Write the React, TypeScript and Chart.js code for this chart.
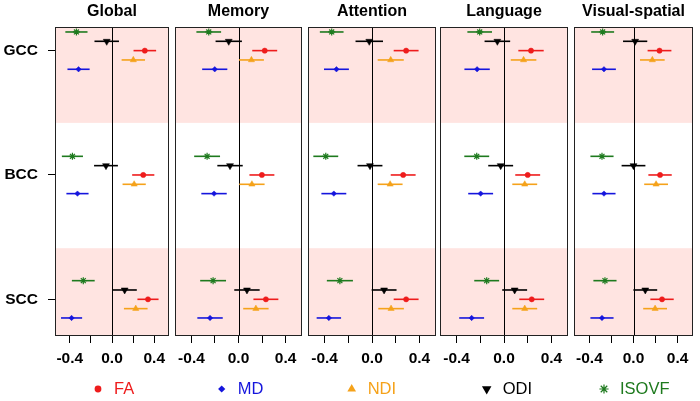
import React, { useEffect, useRef } from 'react';
import { Chart, registerables } from 'chart.js';

Chart.register(...registerables);

// ---------- data ----------
const PANELS = ['Global', 'Memory', 'Attention', 'Language', 'Visual-spatial'];
const ROWS = ['GCC', 'BCC', 'SCC'];
const METRICS = ['FA', 'MD', 'NDI', 'ODI', 'ISOVF'];
const X_TICKS = [-0.4, -0.2, 0, 0.2, 0.4];
const X_TICK_LABELS = ['-0.4', '', '0.0', '', '0.4'];

// estimates [panel][row GCC, BCC, SCC]
const FA_EST = [[0.311, 0.296, 0.341], [0.223, 0.199, 0.233], [0.288, 0.263, 0.288], [0.228, 0.2, 0.234], [0.236, 0.241, 0.259]];
const MD_EST = [[-0.317, -0.327, -0.383], [-0.202, -0.208, -0.242], [-0.3, -0.322, -0.364], [-0.227, -0.197, -0.273], [-0.268, -0.268, -0.286]];
const NDI_EST = [[0.202, 0.21, 0.225], [0.11, 0.114, 0.148], [0.158, 0.153, 0.161], [0.165, 0.175, 0.175], [0.171, 0.205, 0.196]];
const ODI_EST = [[-0.05, -0.057, 0.12], [-0.083, -0.072, 0.072], [-0.023, -0.017, 0.102], [-0.056, -0.028, 0.09], [0.015, 0.0, 0.107]];
const ISOVF_EST = [[-0.337, -0.375, -0.272], [-0.253, -0.267, -0.216], [-0.34, -0.39, -0.271], [-0.205, -0.23, -0.146], [-0.28, -0.286, -0.259]];

// confidence-interval half widths [panel][row]
const FA_HW = [[0.107, 0.105, 0.1], [0.106, 0.106, 0.106], [0.105, 0.105, 0.105], [0.107, 0.105, 0.105], [0.108, 0.106, 0.106]];
const MD_HW = [[0.105, 0.105, 0.1], [0.107, 0.108, 0.108], [0.105, 0.105, 0.103], [0.107, 0.105, 0.105], [0.108, 0.105, 0.105]];
const NDI_HW = [[0.111, 0.11, 0.112], [0.106, 0.108, 0.108], [0.11, 0.105, 0.108], [0.108, 0.105, 0.105], [0.112, 0.108, 0.108]];
const ODI_HW = [[0.116, 0.113, 0.115], [0.112, 0.108, 0.108], [0.116, 0.105, 0.105], [0.108, 0.105, 0.105], [0.11, 0.108, 0.108]];
const ISOVF_HW = [[0.105, 0.1, 0.108], [0.105, 0.11, 0.11], [0.1, 0.105, 0.11], [0.104, 0.105, 0.105], [0.104, 0.105, 0.105]];

const EST = [FA_EST, MD_EST, NDI_EST, ODI_EST, ISOVF_EST];
const HW = [FA_HW, MD_HW, NDI_HW, ODI_HW, ISOVF_HW];

// ---------- styles / layout ----------
const COLORS = ['#ee1c1c', '#1515dd', '#f5a21a', '#000000', '#1e7a1e'];
const POINT_STYLES = ['circle', 'rectRot', 'triangle', 'triangle', 'star'];
const POINT_RADII = [2.6, 2.7, 3.6, 4.0, 3.5];
const POINT_ROT = [0, 0, 0, 180, 0];
const ROW_OFFSETS = [0, 0.15, 0.075, -0.075, -0.15];
const LEGEND_KIND = ['circle', 'diamond', 'up', 'down', 'star'];
const LEGEND_R = [3.4, 3.6, 5.0, 5.5, 4.6];
const LEGEND_X = [98, 221.7, 351.7, 486.7, 604];
const LEGEND_TEXT_DX = 16;
const LEGEND_Y = 389;

const PANEL_LEFT = [55, 175, 308, 440, 574];
const PANEL_RIGHT = [169, 302, 436, 568, 693];
const PLOT_TOP = 27;
const PLOT_BOTTOM = 335;
const X_AXIS_H = 50;
const X_MIN = -0.54;
const X_MAX = 0.54;
const Y_MIN = 0.81;
const Y_MAX = 3.287;
const BAND_EDGES = [1.581, 2.589];
const PINK = '#ffe4e1';
const FONT = '"Liberation Sans", Arial, Helvetica, sans-serif';

function drawMarker(ctx: CanvasRenderingContext2D, kind: string, x: number, y: number, r: number, color: string) {
  ctx.save();
  ctx.fillStyle = color;
  ctx.strokeStyle = color;
  ctx.beginPath();
  if (kind === 'circle') {
    ctx.arc(x, y, r, 0, Math.PI * 2);
    ctx.fill();
  } else if (kind === 'diamond') {
    ctx.moveTo(x, y - r); ctx.lineTo(x + r, y); ctx.lineTo(x, y + r); ctx.lineTo(x - r, y); ctx.closePath();
    ctx.fill();
  } else if (kind === 'up') {
    ctx.moveTo(x, y - r); ctx.lineTo(x + r * 0.866, y + r / 2); ctx.lineTo(x - r * 0.866, y + r / 2); ctx.closePath();
    ctx.fill();
  } else if (kind === 'down') {
    ctx.moveTo(x, y + r); ctx.lineTo(x + r * 0.866, y - r / 2); ctx.lineTo(x - r * 0.866, y - r / 2); ctx.closePath();
    ctx.fill();
  } else {
    ctx.lineWidth = 1.2;
    for (let k = 0; k < 4; k++) {
      const a = (k * Math.PI) / 4;
      ctx.moveTo(x - Math.cos(a) * r, y - Math.sin(a) * r);
      ctx.lineTo(x + Math.cos(a) * r, y + Math.sin(a) * r);
    }
    ctx.stroke();
  }
  ctx.restore();
}

const decorPlugin = {
  id: 'panelDecor',
  beforeDraw(chart: any) {
    const { ctx, chartArea, scales } = chart;
    const y = scales.y;
    const edges = [Y_MIN, ...BAND_EDGES, Y_MAX];
    ctx.save();
    for (let i = 0; i < 3; i += 2) {
      const y0 = y.getPixelForValue(edges[i]);
      const y1 = y.getPixelForValue(edges[i + 1]);
      ctx.fillStyle = PINK;
      ctx.fillRect(chartArea.left, Math.min(y0, y1), chartArea.right - chartArea.left, Math.abs(y1 - y0));
    }
    ctx.restore();
  },
  beforeDatasetsDraw(chart: any) {
    const { ctx, chartArea, scales } = chart;
    const x = scales.x;
    const y = scales.y;
    ctx.save();
    const zx = Math.round(x.getPixelForValue(0)) + 0.5;
    ctx.strokeStyle = '#000';
    ctx.lineWidth = 1;
    ctx.beginPath();
    ctx.moveTo(zx, chartArea.top);
    ctx.lineTo(zx, chartArea.bottom);
    ctx.stroke();
    chart.data.datasets.forEach((ds: any, di: number) => {
      ctx.strokeStyle = COLORS[di];
      ctx.lineWidth = 1.6;
      ds.data.forEach((pt: any) => {
        const py = y.getPixelForValue(pt.y);
        ctx.beginPath();
        ctx.moveTo(x.getPixelForValue(pt.lo), py);
        ctx.lineTo(x.getPixelForValue(pt.hi), py);
        ctx.stroke();
      });
    });
    ctx.restore();
  },
  afterDraw(chart: any) {
    const { ctx, chartArea } = chart;
    ctx.save();
    ctx.strokeStyle = '#222';
    ctx.lineWidth = 1;
    ctx.strokeRect(chartArea.left + 0.5, chartArea.top + 0.5, chartArea.right - chartArea.left - 1, chartArea.bottom - chartArea.top);
    ctx.restore();
  },
};

const legendPlugin = {
  id: 'bottomLegend',
  afterDraw(chart: any) {
    const ctx: CanvasRenderingContext2D = chart.ctx;
    ctx.save();
    ctx.font = `16.5px ${FONT}`;
    ctx.textBaseline = 'middle';
    ctx.textAlign = 'left';
    METRICS.forEach((m, i) => {
      drawMarker(ctx, LEGEND_KIND[i], LEGEND_X[i], LEGEND_Y, LEGEND_R[i], COLORS[i]);
      ctx.fillStyle = COLORS[i];
      ctx.fillText(m, LEGEND_X[i] + LEGEND_TEXT_DX, LEGEND_Y + 0.5);
    });
    ctx.restore();
  },
};

function makeConfig(p: number): any {
  const datasets = METRICS.map((m, mi) => ({
    label: m,
    data: ROWS.map((_, ri) => {
      const e = EST[mi][p][ri];
      const h = HW[mi][p][ri];
      return { x: e, y: ri + 1 + ROW_OFFSETS[mi], lo: e - h, hi: e + h };
    }),
    showLine: false,
    pointStyle: POINT_STYLES[mi],
    pointRadius: POINT_RADII[mi],
    pointRotation: POINT_ROT[mi],
    pointBackgroundColor: COLORS[mi],
    pointBorderColor: COLORS[mi],
    pointBorderWidth: mi === 4 ? 1.2 : 0.5,
    pointHoverRadius: POINT_RADII[mi],
  }));
  const first = p === 0;
  return {
    type: 'scatter',
    data: { datasets },
    options: {
      responsive: false,
      animation: false,
      events: [],
      layout: {
        padding: {
          left: first ? 0 : PANEL_LEFT[p],
          right: 700 - PANEL_RIGHT[p],
          top: 0,
          bottom: 401 - PLOT_BOTTOM - X_AXIS_H,
        },
      },
      plugins: {
        legend: { display: false },
        tooltip: { enabled: false },
        title: {
          display: true,
          text: PANELS[p],
          fullSize: false,
          color: '#000',
          font: { family: FONT, size: 16, weight: 'bold', lineHeight: 1.2 },
          padding: { top: 2, bottom: PLOT_TOP - 19.2 - 2 },
        },
      },
      scales: {
        x: {
          type: 'linear',
          min: X_MIN,
          max: X_MAX,
          bounds: 'data',
          afterBuildTicks: (s: any) => { s.ticks = X_TICKS.map((v) => ({ value: v })); },
          afterFit: (s: any) => { s.height = X_AXIS_H; },
          grid: { drawOnChartArea: false, drawTicks: true, tickLength: 8, color: '#000', tickColor: '#000', lineWidth: 1 },
          border: { display: false },
          ticks: {
            autoSkip: false,
            maxRotation: 0,
            padding: 6,
            color: '#000',
            font: { family: FONT, size: 15.5, weight: 'bold', lineHeight: 1.2 },
            callback: (_v: any, i: number) => X_TICK_LABELS[i],
          },
        },
        y: {
          type: 'linear',
          display: first,
          reverse: true,
          min: Y_MIN,
          max: Y_MAX,
          bounds: 'data',
          afterBuildTicks: (s: any) => { s.ticks = ROWS.map((_, i) => ({ value: i + 1 })); },
          afterFit: (s: any) => { s.width = first ? PANEL_LEFT[0] : 0; },
          grid: { drawOnChartArea: false, drawTicks: true, tickLength: 7, color: '#000', tickColor: '#000', lineWidth: 1 },
          border: { display: false },
          ticks: {
            autoSkip: false,
            padding: 10,
            color: '#000',
            font: { family: FONT, size: 15.5, weight: 'bold', lineHeight: 1.2 },
            callback: (_v: any, i: number) => ROWS[i],
          },
        },
      },
    },
    plugins: first ? [decorPlugin, legendPlugin] : [decorPlugin],
  };
}

export default function App() {
  const refs = useRef<(HTMLCanvasElement | null)[]>([]);
  useEffect(() => {
    const charts = PANELS.map((_, p) => new Chart(refs.current[p] as HTMLCanvasElement, makeConfig(p)));
    return () => charts.forEach((c) => c.destroy());
  }, []);
  return (
    <div style={{ position: 'absolute', left: 0, top: 0, width: 700, height: 401, background: '#fff' }}>
      {PANELS.map((n, p) => (
        <canvas
          key={n}
          ref={(el) => { refs.current[p] = el; }}
          width={700}
          height={401}
          style={{ position: 'absolute', left: 0, top: 0 }}
        />
      ))}
    </div>
  );
}
